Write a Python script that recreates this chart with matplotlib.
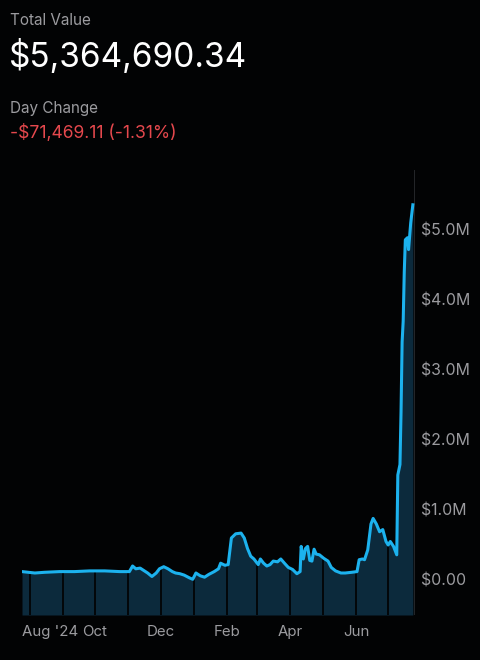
import matplotlib
matplotlib.use("Agg")
import matplotlib.pyplot as plt
import matplotlib.dates as mdates
import numpy as np
import pandas as pd

plt.rcParams['font.family'] = ['Inter', 'DejaVu Sans']

# ---- data (portfolio value, $M) ----
dates = [
    "2024-07-25", "2024-07-31", "2024-08-06", "2024-08-15", "2024-08-29",
    "2024-09-12", "2024-09-26", "2024-10-10", "2024-10-24", "2024-11-02",
    "2024-11-05", "2024-11-08", "2024-11-12", "2024-11-15", "2024-11-19",
    "2024-11-23", "2024-11-27", "2024-11-30", "2024-12-04", "2024-12-08",
    "2024-12-12", "2024-12-15", "2024-12-19", "2024-12-23", "2024-12-28",
    "2024-12-31", "2025-01-03", "2025-01-07", "2025-01-11", "2025-01-15",
    "2025-01-20", "2025-01-24", "2025-01-26", "2025-01-30", "2025-02-02",
    "2025-02-05", "2025-02-09", "2025-02-14", "2025-02-17", "2025-02-20",
    "2025-02-23", "2025-02-26", "2025-03-02", "2025-03-04", "2025-03-07",
    "2025-03-10", "2025-03-13", "2025-03-16", "2025-03-20", "2025-03-23",
    "2025-03-27", "2025-03-30", "2025-04-03", "2025-04-07", "2025-04-10",
    "2025-04-11", "2025-04-13", "2025-04-15", "2025-04-17", "2025-04-19",
    "2025-04-21", "2025-04-23", "2025-04-25", "2025-04-28", "2025-05-02",
    "2025-05-06", "2025-05-09", "2025-05-13", "2025-05-18", "2025-05-22",
    "2025-05-28", "2025-06-02", "2025-06-04", "2025-06-07", "2025-06-09",
    "2025-06-12", "2025-06-15", "2025-06-17", "2025-06-20", "2025-06-23",
    "2025-06-26", "2025-06-29", "2025-07-01", "2025-07-03", "2025-07-06",
    "2025-07-09", "2025-07-10", "2025-07-12", "2025-07-13", "2025-07-14",
    "2025-07-15", "2025-07-16", "2025-07-17", "2025-07-19", "2025-07-20",
    "2025-07-22", "2025-07-24",
]
values = [
    0.12, 0.11, 0.10, 0.11, 0.12,
    0.12, 0.13, 0.13, 0.12, 0.12,
    0.20, 0.16, 0.17, 0.14, 0.10,
    0.05, 0.10, 0.16, 0.19, 0.16,
    0.12, 0.10, 0.09, 0.07, 0.03,
    0.01, 0.10, 0.06, 0.04, 0.08,
    0.12, 0.16, 0.24, 0.21, 0.22,
    0.60, 0.66, 0.67, 0.60, 0.45,
    0.34, 0.30, 0.22, 0.30, 0.24,
    0.20, 0.22, 0.27, 0.26, 0.30,
    0.23, 0.18, 0.15, 0.09, 0.12,
    0.48, 0.30, 0.45, 0.48, 0.28,
    0.27, 0.44, 0.37, 0.36, 0.31,
    0.27, 0.18, 0.13, 0.10, 0.10,
    0.11, 0.12, 0.29, 0.30, 0.29,
    0.43, 0.80, 0.88, 0.80, 0.69,
    0.72, 0.55, 0.50, 0.55, 0.48,
    0.36, 1.50, 1.65, 2.40, 3.40,
    3.70, 4.40, 4.86, 4.89, 4.72,
    5.10, 5.36,
]
month_starts = ["2024-08-01", "2024-09-01", "2024-10-01", "2024-11-01",
                "2024-12-01", "2025-01-01", "2025-02-01", "2025-03-01",
                "2025-04-01", "2025-05-01", "2025-06-01", "2025-07-01"]
tick_dates = ["2024-07-25", "2024-10-01", "2024-12-01", "2025-02-01",
              "2025-04-01", "2025-06-01"]
tick_labels = ["Aug '24", "Oct", "Dec", "Feb", "Apr", "Jun"]
y_ticks = [0, 1, 2, 3, 4, 5]
y_labels = ["$0.00", "$1.0M", "$2.0M", "$3.0M", "$4.0M", "$5.0M"]

BG = "#020304"
LINE = "#1cb2ee"
FILL = "#0c2a3c"
GREY = "#9b9b9f"

x = pd.to_datetime(dates)
y = np.array(values)
xnum = mdates.date2num(x)

fig = plt.figure(figsize=(4.8, 6.6), dpi=100, facecolor=BG)
W, H = 480, 660
ax = fig.add_axes([22 / W, 1 - 615 / H, (415 - 22) / W, (615 - 170) / H])
ax.set_facecolor(BG)

ymin, ymax = -0.5, 5.857
ax.fill_between(x, ymin, y, color=FILL, lw=0, zorder=1)
ms = mdates.date2num(pd.to_datetime(month_starts))
ax.vlines(pd.to_datetime(month_starts), ymin, np.interp(ms, xnum, y),
          color=BG, lw=1.4, zorder=2, alpha=0.9)
ax.plot(x, y, color=LINE, lw=2.2, zorder=3, solid_joinstyle='round')
ax.axvline(pd.Timestamp("2025-07-26"), color="#2a2c30", lw=1.2, zorder=0)

ax.set_xlim(pd.Timestamp("2024-07-25"), pd.Timestamp("2025-07-26"))
ax.set_ylim(ymin, ymax)

ax.set_xticks(pd.to_datetime(tick_dates))
ax.set_xticklabels(tick_labels)
ax.xaxis.set_minor_locator(matplotlib.ticker.NullLocator())
for i, t in enumerate(ax.get_xticklabels()):
    t.set_ha('left' if i == 0 else 'center')
ax.tick_params(axis='x', length=0, pad=7, labelsize=10.8, labelcolor=GREY)

ax.yaxis.tick_right()
ax.set_yticks(y_ticks)
ax.set_yticklabels(y_labels)
ax.tick_params(axis='y', length=0, pad=4, labelsize=11.4, labelcolor=GREY)

for s in ax.spines.values():
    s.set_visible(False)

fig.text(10 / W, 1 - 25 / H, "Total Value", color=GREY, fontsize=11, va='baseline', ha='left')
fig.text(9 / W, 1 - 67 / H, "$5,364,690.34", color="white", fontsize=24, va='baseline', ha='left')
fig.text(10 / W, 1 - 113 / H, "Day Change", color=GREY, fontsize=11, va='baseline', ha='left')
fig.text(10 / W, 1 - 138 / H, "-$71,469.11 (-1.31%)", color="#e5484d", fontsize=12.6, va='baseline', ha='left')

fig.savefig("out.png", dpi=100, facecolor=BG)
